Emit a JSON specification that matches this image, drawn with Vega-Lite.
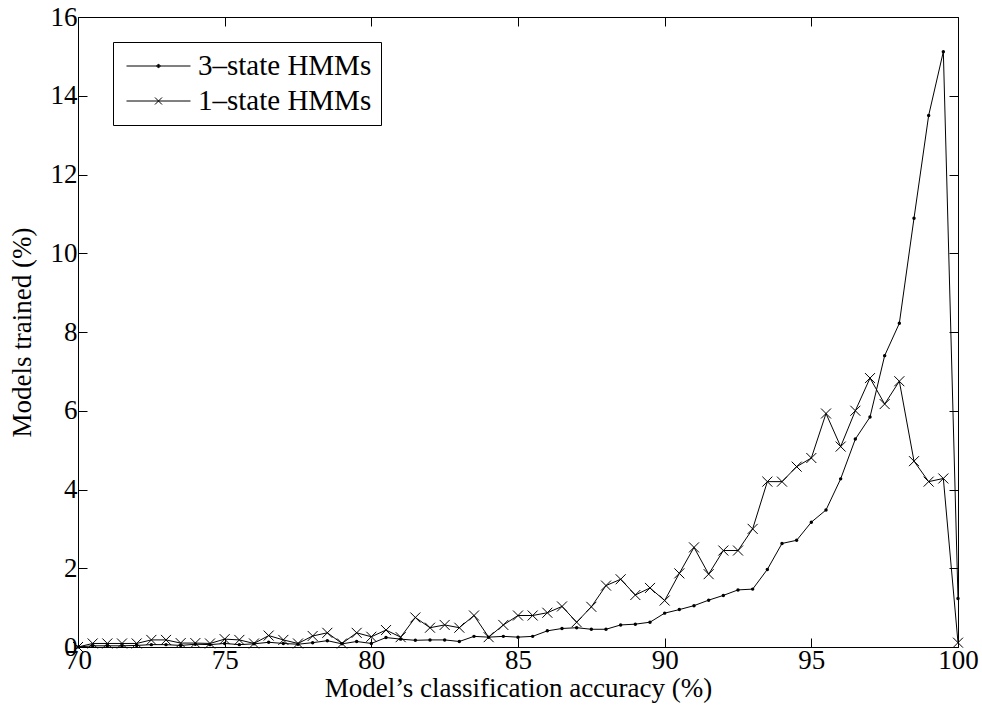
{
  "$schema": "https://vega.github.io/schema/vega-lite/v6.json",
  "width": 880,
  "height": 630,
  "autosize": {"type": "none"},
  "padding": {"left": 78, "top": 17, "right": 24, "bottom": 64},
  "background": "white",
  "config": {
    "view": {"stroke": "black", "strokeWidth": 1},
    "axis": {
      "domain": false, "grid": false, "tickColor": "black", "tickSize": -9, "tickWidth": 1, "labelFlush": false,
      "labelFont": "Liberation Serif", "labelFontSize": 27, "labelColor": "black",
      "titleFont": "Liberation Serif", "titleFontSize": 27, "titleFontWeight": "normal", "titleColor": "black"
    }
  },
  "data": {"values": [
    {"x":70,"y":0.0,"series":"3–state HMMs"},{"x":70.5,"y":0.03,"series":"3–state HMMs"},{"x":71,"y":0.03,"series":"3–state HMMs"},{"x":71.5,"y":0.03,"series":"3–state HMMs"},{"x":72,"y":0.04,"series":"3–state HMMs"},{"x":72.5,"y":0.06,"series":"3–state HMMs"},{"x":73,"y":0.06,"series":"3–state HMMs"},{"x":73.5,"y":0.04,"series":"3–state HMMs"},{"x":74,"y":0.07,"series":"3–state HMMs"},{"x":74.5,"y":0.06,"series":"3–state HMMs"},
    {"x":75,"y":0.09,"series":"3–state HMMs"},{"x":75.5,"y":0.06,"series":"3–state HMMs"},{"x":76,"y":0.08,"series":"3–state HMMs"},{"x":76.5,"y":0.12,"series":"3–state HMMs"},{"x":77,"y":0.09,"series":"3–state HMMs"},{"x":77.5,"y":0.07,"series":"3–state HMMs"},{"x":78,"y":0.11,"series":"3–state HMMs"},{"x":78.5,"y":0.16,"series":"3–state HMMs"},{"x":79,"y":0.08,"series":"3–state HMMs"},{"x":79.5,"y":0.14,"series":"3–state HMMs"},
    {"x":80,"y":0.09,"series":"3–state HMMs"},{"x":80.5,"y":0.24,"series":"3–state HMMs"},{"x":81,"y":0.2,"series":"3–state HMMs"},{"x":81.5,"y":0.17,"series":"3–state HMMs"},{"x":82,"y":0.18,"series":"3–state HMMs"},{"x":82.5,"y":0.18,"series":"3–state HMMs"},{"x":83,"y":0.14,"series":"3–state HMMs"},{"x":83.5,"y":0.27,"series":"3–state HMMs"},{"x":84,"y":0.25,"series":"3–state HMMs"},{"x":84.5,"y":0.27,"series":"3–state HMMs"},
    {"x":85,"y":0.25,"series":"3–state HMMs"},{"x":85.5,"y":0.27,"series":"3–state HMMs"},{"x":86,"y":0.41,"series":"3–state HMMs"},{"x":86.5,"y":0.47,"series":"3–state HMMs"},{"x":87,"y":0.49,"series":"3–state HMMs"},{"x":87.5,"y":0.45,"series":"3–state HMMs"},{"x":88,"y":0.45,"series":"3–state HMMs"},{"x":88.5,"y":0.56,"series":"3–state HMMs"},{"x":89,"y":0.58,"series":"3–state HMMs"},{"x":89.5,"y":0.63,"series":"3–state HMMs"},
    {"x":90,"y":0.86,"series":"3–state HMMs"},{"x":90.5,"y":0.95,"series":"3–state HMMs"},{"x":91,"y":1.05,"series":"3–state HMMs"},{"x":91.5,"y":1.19,"series":"3–state HMMs"},{"x":92,"y":1.31,"series":"3–state HMMs"},{"x":92.5,"y":1.45,"series":"3–state HMMs"},{"x":93,"y":1.47,"series":"3–state HMMs"},{"x":93.5,"y":1.97,"series":"3–state HMMs"},{"x":94,"y":2.63,"series":"3–state HMMs"},{"x":94.5,"y":2.71,"series":"3–state HMMs"},
    {"x":95,"y":3.17,"series":"3–state HMMs"},{"x":95.5,"y":3.48,"series":"3–state HMMs"},{"x":96,"y":4.27,"series":"3–state HMMs"},{"x":96.5,"y":5.28,"series":"3–state HMMs"},{"x":97,"y":5.84,"series":"3–state HMMs"},{"x":97.5,"y":7.40,"series":"3–state HMMs"},{"x":98,"y":8.22,"series":"3–state HMMs"},{"x":98.5,"y":10.89,"series":"3–state HMMs"},{"x":99,"y":13.50,"series":"3–state HMMs"},{"x":99.5,"y":15.12,"series":"3–state HMMs"},
    {"x":100,"y":1.23,"series":"3–state HMMs"},
    {"x":70,"y":0.0,"series":"1–state HMMs"},{"x":70.5,"y":0.09,"series":"1–state HMMs"},{"x":71,"y":0.09,"series":"1–state HMMs"},{"x":71.5,"y":0.09,"series":"1–state HMMs"},{"x":72,"y":0.09,"series":"1–state HMMs"},{"x":72.5,"y":0.18,"series":"1–state HMMs"},{"x":73,"y":0.18,"series":"1–state HMMs"},{"x":73.5,"y":0.1,"series":"1–state HMMs"},{"x":74,"y":0.1,"series":"1–state HMMs"},{"x":74.5,"y":0.09,"series":"1–state HMMs"},
    {"x":75,"y":0.2,"series":"1–state HMMs"},{"x":75.5,"y":0.18,"series":"1–state HMMs"},{"x":76,"y":0.09,"series":"1–state HMMs"},{"x":76.5,"y":0.29,"series":"1–state HMMs"},{"x":77,"y":0.18,"series":"1–state HMMs"},{"x":77.5,"y":0.09,"series":"1–state HMMs"},{"x":78,"y":0.28,"series":"1–state HMMs"},{"x":78.5,"y":0.36,"series":"1–state HMMs"},{"x":79,"y":0.09,"series":"1–state HMMs"},{"x":79.5,"y":0.36,"series":"1–state HMMs"},
    {"x":80,"y":0.26,"series":"1–state HMMs"},{"x":80.5,"y":0.43,"series":"1–state HMMs"},{"x":81,"y":0.25,"series":"1–state HMMs"},{"x":81.5,"y":0.75,"series":"1–state HMMs"},{"x":82,"y":0.49,"series":"1–state HMMs"},{"x":82.5,"y":0.56,"series":"1–state HMMs"},{"x":83,"y":0.49,"series":"1–state HMMs"},{"x":83.5,"y":0.8,"series":"1–state HMMs"},{"x":84,"y":0.25,"series":"1–state HMMs"},{"x":84.5,"y":0.56,"series":"1–state HMMs"},
    {"x":85,"y":0.8,"series":"1–state HMMs"},{"x":85.5,"y":0.8,"series":"1–state HMMs"},{"x":86,"y":0.87,"series":"1–state HMMs"},{"x":86.5,"y":1.03,"series":"1–state HMMs"},{"x":87,"y":0.63,"series":"1–state HMMs"},{"x":87.5,"y":1.02,"series":"1–state HMMs"},{"x":88,"y":1.56,"series":"1–state HMMs"},{"x":88.5,"y":1.72,"series":"1–state HMMs"},{"x":89,"y":1.32,"series":"1–state HMMs"},{"x":89.5,"y":1.5,"series":"1–state HMMs"},
    {"x":90,"y":1.18,"series":"1–state HMMs"},{"x":90.5,"y":1.87,"series":"1–state HMMs"},{"x":91,"y":2.53,"series":"1–state HMMs"},{"x":91.5,"y":1.85,"series":"1–state HMMs"},{"x":92,"y":2.45,"series":"1–state HMMs"},{"x":92.5,"y":2.45,"series":"1–state HMMs"},{"x":93,"y":3.0,"series":"1–state HMMs"},{"x":93.5,"y":4.2,"series":"1–state HMMs"},{"x":94,"y":4.2,"series":"1–state HMMs"},{"x":94.5,"y":4.58,"series":"1–state HMMs"},
    {"x":95,"y":4.8,"series":"1–state HMMs"},{"x":95.5,"y":5.93,"series":"1–state HMMs"},{"x":96,"y":5.09,"series":"1–state HMMs"},{"x":96.5,"y":6.0,"series":"1–state HMMs"},{"x":97,"y":6.83,"series":"1–state HMMs"},{"x":97.5,"y":6.17,"series":"1–state HMMs"},{"x":98,"y":6.75,"series":"1–state HMMs"},{"x":98.5,"y":4.72,"series":"1–state HMMs"},{"x":99,"y":4.2,"series":"1–state HMMs"},{"x":99.5,"y":4.28,"series":"1–state HMMs"},
    {"x":100,"y":0.11,"series":"1–state HMMs"}
  ]},
  "layer": [
    {
      "mark": {"type": "line", "color": "black", "strokeWidth": 1},
      "encoding": {
        "x": {"field": "x", "type": "quantitative", "scale": {"domain": [70, 100], "nice": false, "zero": false},
              "axis": {"orient": "bottom", "values": [70, 75, 80, 85, 90, 95, 100], "title": "Model’s classification accuracy (%)", "labelPadding": 9, "titlePadding": 2}},
        "y": {"field": "y", "type": "quantitative", "scale": {"domain": [0, 16], "nice": false},
              "axis": {"orient": "left", "values": [0, 2, 4, 6, 8, 10, 12, 14, 16], "title": "Models trained (%)", "labelPadding": 10, "titlePadding": 14}},
        "detail": {"field": "series", "type": "nominal"}
      }
    },
    {
      "mark": {"type": "point", "filled": false, "color": "black", "strokeWidth": 1, "opacity": 0},
      "encoding": {
        "x": {"field": "x", "type": "quantitative", "axis": null},
        "y": {"field": "y", "type": "quantitative", "axis": null},
        "shape": {"field": "series", "type": "nominal",
          "scale": {"domain": ["3–state HMMs", "1–state HMMs"],
                    "range": ["M-1,0H1M0.05,0A0.05,0.05 0 1 1 -0.05,0A0.05,0.05 0 1 1 0.05,0ZM-0.05,0H0.05M0,-0.05V0.05", "M-1,0H1M-0.11,-0.11L0.11,0.11M-0.11,0.11L0.11,-0.11"]},
          "legend": {
            "orient": "none", "legendX": 35, "legendY": 25, "title": null,
            "strokeColor": "black", "fillColor": "white", "padding": 9,
            "labelFont": "Liberation Serif", "labelFontSize": 29, "labelColor": "black", "labelLimit": 0,
            "symbolSize": 4096, "clipHeight": 30, "rowPadding": 5, "labelOffset": 7, "symbolOffset": 4,
            "symbolOpacity": 1, "symbolStrokeWidth": 1, "symbolStrokeColor": "black",
            "encode": {"symbols": {
              "stroke": {"value": "black"},
              "fill": {"value": "black"},
              "strokeWidth": {"value": 1},
              "opacity": {"value": 1}
            }}
          }
        }
      }
    },
    {
      "transform": [{"filter": "datum.series == '3–state HMMs'"}],
      "mark": {"type": "point", "shape": "circle", "filled": true, "color": "black", "size": 12, "opacity": 1},
      "encoding": {
        "x": {"field": "x", "type": "quantitative", "axis": null},
        "y": {"field": "y", "type": "quantitative", "axis": null}
      }
    },
    {
      "transform": [{"filter": "datum.series == '1–state HMMs'"}],
      "mark": {"type": "point", "shape": "M-1,-1L1,1M-1,1L1,-1", "filled": false, "color": "black", "strokeWidth": 1, "size": 100, "opacity": 1},
      "encoding": {
        "x": {"field": "x", "type": "quantitative", "axis": null},
        "y": {"field": "y", "type": "quantitative", "axis": null}
      }
    },
    {
      "mark": {"type": "point", "opacity": 0},
      "encoding": {
        "x": {"field": "x", "type": "quantitative", "axis": {"orient": "top", "labels": false, "title": null, "values": [70, 75, 80, 85, 90, 95, 100]}},
        "y": {"field": "y", "type": "quantitative", "axis": {"orient": "right", "labels": false, "title": null, "values": [0, 2, 4, 6, 8, 10, 12, 14, 16]}}
      }
    }
  ]
}
